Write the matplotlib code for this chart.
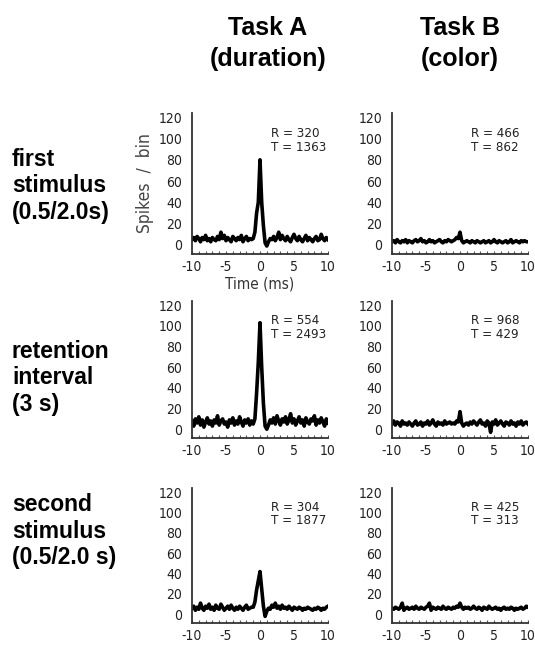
import numpy as np
import matplotlib
matplotlib.use("Agg")
import matplotlib.pyplot as plt
from matplotlib.ticker import MultipleLocator

plt.rcParams["axes.unicode_minus"] = False

# Cross-correlogram bins (ms): -10 .. 10 in 0.25 ms steps
bin_start, bin_stop, bin_width = -10.0, 10.0, 0.25
time_ms = np.linspace(bin_start, bin_stop, int(round((bin_stop - bin_start) / bin_width)) + 1)

# Spikes / bin, Task A (duration)
a_first = [5, 7, 4, 8, 6, 3, 7, 5, 9, 4, 6, 3, 7, 5, 4, 8, 5, 12, 6, 9,
           4, 7, 5, 3, 8, 6, 4, 7, 5, 9, 3, 6, 8, 4, 6, 5,
           6, 12, 30, 40, 80, 40, 18, 2, -1,
           3, 6, 5, 8, 4, 7, 12, 5, 9, 6, 4, 8, 5, 3, 7, 10, 6, 4, 8, 5,
           3, 6, 9, 4, 7, 5, 3, 6, 8, 4, 5, 10, 6, 4, 7, 5]
a_retention = [8, 3, 10, 6, 12, 4, 9, 2, 7, 11, 5, 8, 3, 9, 6, 13, 4, 8, 10, 5,
               7, 2, 9, 6, 11, 4, 8, 5, 12, 7, 3, 9, 6, 10, 4, 8,
               5, 10, 35, 65, 103, 60, 25, 3, 0,
               4, 9, 6, 11, 5, 13, 8, 4, 10, 7, 12, 5, 9, 15, 6, 10, 4, 8, 12, 6,
               9, 3, 11, 7, 5, 10, 8, 13, 4, 9, 6, 11, 7, 3, 10, 6]
a_second = [6, 8, 4, 7, 5, 11, 6, 4, 8, 6, 10, 5, 7, 4, 9, 6, 5, 10, 7, 4,
            6, 8, 5, 9, 6, 4, 7, 5, 8, 6, 4, 7, 9, 5, 6, 7,
            7, 12, 24, 33, 42, 25, 8, -2, 3,
            6, 5, 9, 7, 11, 6, 8, 5, 9, 6, 7, 5, 8, 6, 4, 7, 6, 5, 7, 6,
            4, 6, 5, 7, 6, 5, 4, 6, 5, 7, 6, 4, 6, 5, 7, 8]

# Spikes / bin, Task B (color)
b_first = [3, 4, 2, 5, 3, 2, 4, 3, 5, 2, 4, 3, 2, 4, 5, 3, 4, 6, 3, 4,
           2, 3, 5, 3, 4, 2, 3, 4, 5, 3, 2, 4, 3, 5, 4, 3,
           4, 5, 7, 6, 12, 4, 2, 3, 4,
           3, 2, 4, 3, 2, 4, 3, 2, 3, 4, 2, 3, 4, 2, 3, 5, 3, 2, 4, 3,
           2, 3, 4, 2, 3, 5, 2, 3, 4, 3, 2, 4, 3, 4, 3, 3]
b_retention = [5, 8, 4, 7, 6, 3, 8, 5, 6, 4, 7, 5, 3, 6, 8, 4, 5, 7, 3, 6,
               5, 8, 4, 6, 9, 5, 3, 7, 5, 6, 4, 8, 5, 6, 7, 5,
               6, 5, 8, 7, 17, 6, 3, 5, 6,
               4, 7, 5, 8, 6, 4, 7, 9, 5, 6, 3, 8, 6, -3, 7, 5, 9, 4, 6, 8,
               5, 3, 7, 6, 4, 8, 5, 6, 3, 7, 5, 8, 4, 6, 7, 5]
b_second = [6, 5, 7, 6, 5, 7, 11, 4, 6, 7, 5, 6, 7, 5, 8, 6, 5, 7, 6, 5,
            7, 8, 11, 4, 7, 6, 5, 7, 6, 5, 8, 6, 5, 7, 6, 5,
            7, 6, 8, 7, 11, 7, 5, 7, 6,
            7, 5, 6, 8, 6, 5, 7, 6, 4, 7, 6, 5, 8, 6, 5, 6, 7, 5, 6, 4,
            6, 7, 5, 6, 5, 7, 6, 4, 6, 5, 6, 7, 5, 6, 8, 7]

# Spike counts of reference (R) and target (T) neurons
r_counts = [[320, 466], [554, 968], [304, 425]]
t_counts = [[1363, 862], [2493, 429], [1877, 313]]

series = [[a_first, b_first], [a_retention, b_retention], [a_second, b_second]]
task_titles = [("Task A", "(duration)"), ("Task B", "(color)")]
epoch_labels = ["first\nstimulus\n(0.5/2.0s)",
                "retention\ninterval\n(3 s)",
                "second\nstimulus\n(0.5/2.0 s)"]
y_ticks = [0, 20, 40, 60, 80, 100, 120]
x_ticks = [-10, -5, 0, 5, 10]

W, H = 535, 646
fig = plt.figure(figsize=(W / 100, H / 100), dpi=100)

narrow = dict(family="DejaVu Sans", stretch="condensed")
bold = ["Liberation Sans", "DejaVu Sans"]

col_left = [192, 392]
col_width = 136
row_box = [(113, 254), (301, 438), (488, 623)]   # top, bottom in pixels

for r in range(3):
    top, bot = row_box[r]
    for c in range(2):
        ax = fig.add_axes([col_left[c] / W, 1 - bot / H, col_width / W, (bot - top) / H])
        ax.plot(time_ms, series[r][c], color="black", lw=2.6, solid_joinstyle="round")
        ax.set_xlim(-10, 10)
        ax.set_ylim(-8.5, 124)
        for s in ("top", "right"):
            ax.spines[s].set_visible(False)
        for s in ("left", "bottom"):
            ax.spines[s].set_linewidth(1.3)
            ax.spines[s].set_color("#333333")
        ax.set_xticks(x_ticks)
        ax.set_yticks(y_ticks)
        ax.xaxis.set_minor_locator(MultipleLocator(1))
        ax.tick_params(axis="x", which="both", direction="in", length=2, width=0.8,
                       colors="#555555", labelcolor="#222222", pad=4)
        ax.tick_params(axis="y", length=0, pad=7, labelcolor="#222222")
        for lab in ax.get_xticklabels() + ax.get_yticklabels():
            lab.set_fontfamily(narrow["family"])
            lab.set_fontstretch(narrow["stretch"])
            lab.set_fontsize(10)
        ax.text(1.6, 105, f"R = {r_counts[r][c]}", fontsize=9.5, color="#222222",
                va="center", ha="left", **narrow)
        ax.text(1.6, 92, f"T = {t_counts[r][c]}", fontsize=9.5, color="#222222",
                va="center", ha="left", **narrow)
        if r == 0 and c == 0:
            ax.set_xlabel("Time (ms)", fontsize=11, color="#333333", labelpad=2, **narrow)
            ax.set_ylabel("Spikes  /  bin", fontsize=12.5, color="#444444", labelpad=3, **narrow)

# Column headers
for (line1, line2), xc in zip(task_titles, [268, 460]):
    fig.text(xc / W, 1 - 28 / H, line1, fontsize=18, fontweight="bold", family=bold,
             ha="center", va="center")
    fig.text(xc / W, 1 - 59 / H, line2, fontsize=18, fontweight="bold", family=bold,
             ha="center", va="center")

# Row labels
for label, yc in zip(epoch_labels, [186, 378, 531]):
    fig.text(12 / W, 1 - yc / H, label, fontsize=16.5, fontweight="bold", family=bold,
             ha="left", va="center", linespacing=1.22)

fig.savefig("out.png", dpi=100, facecolor="white")
